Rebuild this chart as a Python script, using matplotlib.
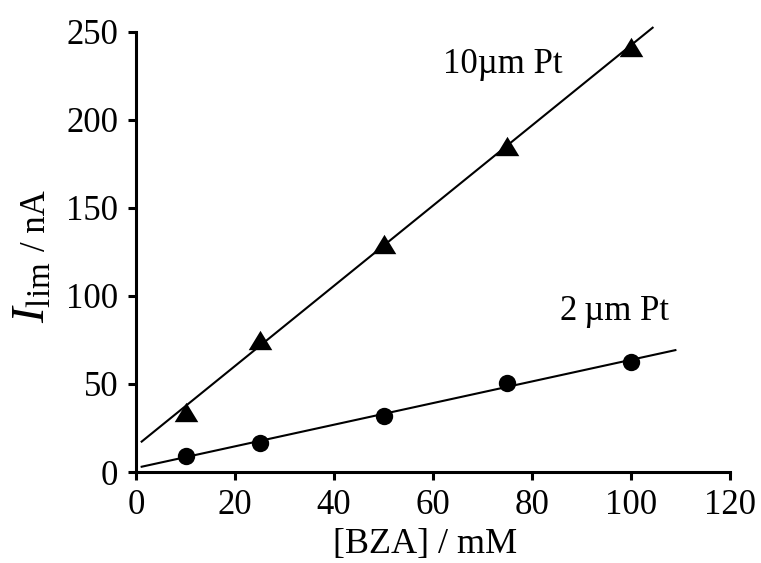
import numpy as np
import matplotlib
matplotlib.use("Agg")
from matplotlib import pyplot as plt

plt.rcParams['font.family'] = ['Liberation Serif', 'DejaVu Serif']
plt.rcParams['mathtext.fontset'] = 'custom'
plt.rcParams['mathtext.rm'] = 'Liberation Serif'
plt.rcParams['mathtext.it'] = 'Liberation Serif:italic'

# data
conc = [10, 25, 50, 75, 100]                  # [BZA] / mM
i_10um = [34.3, 75.0, 129.5, 185.0, 241.6]    # nA, 10 um Pt
i_2um = [9.3, 16.7, 31.8, 50.7, 62.7]         # nA, 2 um Pt
fit_range_10um = (1.1, 104.4)
fit_range_2um = (1.1, 109.0)

xticks = [0, 20, 40, 60, 80, 100, 120]
yticks = [0, 50, 100, 150, 200, 250]

tri = [(-1, -0.82), (1, -0.82), (0, 0.82)]

fig = plt.figure(figsize=(7.61, 5.63), dpi=100)
ax = fig.add_axes([0.179, 0.1616, 0.78, 0.782])


def plot_series(ax, x, y, xr, **opts):
    slope, icpt = np.polyfit(x, y, 1)
    xf = np.array(xr)
    ax.plot(xf, slope * xf + icpt, color='black', linewidth=1.5,
            clip_on=False, zorder=2)
    ax.plot(x, y, linestyle='', color='black', markeredgewidth=0,
            clip_on=False, zorder=3, **opts)


plot_series(ax, conc, i_10um, fit_range_10um, marker=tri, markersize=17)
plot_series(ax, conc, i_2um, fit_range_2um, marker='o', markersize=12.5)

ax.set_xlim(0, 120)
ax.set_ylim(0, 250)
ax.set_xticks(xticks)
ax.set_yticks(yticks)
for side in ('top', 'right'):
    ax.spines[side].set_visible(False)
for side in ('left', 'bottom'):
    ax.spines[side].set_linewidth(2.2)
ax.tick_params(direction='out', length=6, width=2.2, labelsize=25)
ax.tick_params(axis='y', pad=7)
ax.tick_params(axis='x', pad=6)

ax.set_xlabel('[BZA] / mM', fontsize=26, va='baseline')
ax.xaxis.set_label_coords(0.486, -0.183)

# y label: big italic I with subscript, then "/ nA"
fig.text(45 / 761, 1 - 323 / 563, r'$I_{\mathrm{lim}}$', fontsize=34,
         rotation=90, rotation_mode='anchor', ha='left', va='baseline')
fig.text(45 / 761, 1 - 251 / 563, '/ nA', fontsize=25,
         rotation=90, rotation_mode='anchor', ha='left', va='baseline')

ax.text(62, 226.7, '10µm Pt', fontsize=25, ha='left', va='baseline')
ax.text(85.6, 86.4, '2\u2009µm Pt', fontsize=25, ha='left', va='baseline')

fig.savefig('out.png', dpi=100)
